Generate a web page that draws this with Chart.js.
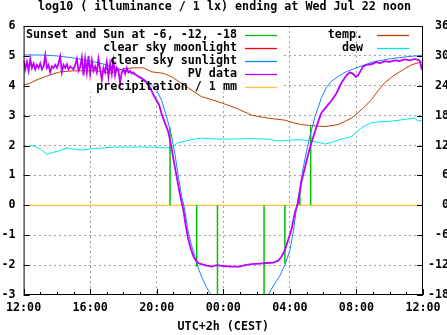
<!DOCTYPE html>
<html>
<head>
<meta charset="utf-8">
<script src="https://cdn.jsdelivr.net/npm/chart.js@4.4.1/dist/chart.umd.min.js"></script>
<style>
  html, body { margin: 0; padding: 0; background: #fff; overflow: hidden; }
  #wrap { width: 449px; height: 335px; }
</style>
</head>
<body>
<div id="wrap"><canvas id="chart" width="449" height="335"></canvas></div>
<script>
// hours after Wed 12:00 (UTC+2)
const xTickLabels = ['12:00', '16:00', '20:00', '00:00', '04:00', '08:00', '12:00'];

// PV data, 12:00 - 19:00 sampled every 6 minutes
const pvNoonStep = 0.1;
const pvNoonValues = [
  4.85, 4.55, 4.8, 4.5, 4.9, 4.6, 4.75, 4.55, 4.7, 4.6,
  4.75, 4.55, 4.65, 5.02, 4.6, 4.7, 4.45, 4.65, 4.6, 4.7,
  4.6, 4.75, 4.98, 4.45, 4.7, 4.6, 4.72, 4.55, 4.65, 4.6,
  4.55, 4.7, 4.9, 4.5, 4.62, 4.95, 4.35, 4.9, 4.45, 5.0,
  4.4, 4.85, 4.5, 4.65, 4.45, 4.9, 4.55, 4.2, 4.6, 4.45,
  4.8, 4.3, 4.75, 4.4, 4.85, 4.35, 4.6, 4.5, 4.1, 4.45,
  4.55, 4.4, 4.6, 4.45, 4.5, 4.42, 4.45, 4.38, 4.35, 4.3,
  4.28
];
const pvLateTimes = [7.2, 7.4, 7.6, 7.8, 8.0, 8.15, 8.3, 8.5, 8.7, 8.9, 9.05, 9.2, 9.4, 9.6, 9.75, 9.9,
  10.05, 10.2, 10.35, 10.5, 10.7, 11.0, 11.3, 11.6, 12.0, 12.5, 13.0, 13.3, 13.7, 14.2, 14.6, 15.0,
  15.3, 15.5, 15.7, 15.9, 16.1, 16.3, 16.5, 16.7, 16.9, 17.1, 17.3, 17.5, 17.7, 17.9, 18.2, 18.5,
  18.8, 19.1, 19.4, 19.6, 19.8, 19.95, 20.1, 20.4, 20.6, 20.9, 21.2, 21.4, 21.7, 22.0, 22.3, 22.6,
  22.9, 23.2, 23.5, 23.8, 23.9, 24];
const pvLateValues = [4.2, 4.1, 3.95, 3.7, 3.5, 3.35, 3.05, 2.75, 2.45, 1.9, 1.4, 0.95, 0.35, -0.15, -0.7, -1.15,
  -1.45, -1.7, -1.85, -1.93, -1.97, -2.02, -2.05, -2.0, -2.03, -2.05, -2.05, -2.0, -1.97, -1.95, -1.93, -1.92,
  -1.85, -1.72, -1.5, -1.15, -0.8, -0.25, 0.1, 0.8, 1.25, 1.7, 2.1, 2.45, 2.8, 3.1, 3.3, 3.5,
  3.75, 4.1, 4.35, 4.45, 4.4, 4.3, 4.35, 4.65, 4.7, 4.72, 4.8, 4.75, 4.82, 4.8, 4.85, 4.83,
  4.88, 4.85, 4.9, 4.85, 4.6, 4.75];

// clear sky sunlight (null = below the plot at night)
const sunTimes = [0, 1, 2, 3, 4, 5, 6, 6.5, 7, 7.5, 8, 8.3, 8.6, 8.9, 9.1, 9.3, 9.5, 9.65, 9.9, 10.1,
  10.3, 10.5, 10.7, 11.0, 11.25, 11.4, 13, 14.6, 14.7, 15.0, 15.4, 15.7, 16.0, 16.2, 16.4, 16.6,
  16.8, 17.0, 17.2, 17.5, 17.9, 18.2, 18.5, 19.0, 19.5, 20, 21, 22, 23, 24];
const sunValues = [5.03, 5.03, 5.0, 4.93, 4.83, 4.7, 4.52, 4.42, 4.3, 4.12, 3.85, 3.5, 2.95, 2.3, 1.7, 0.95,
  0.3, -0.05, -0.9, -1.35, -1.72, -2.1, -2.4, -2.75, -3.0, -3.2, null, -3.2, -3.0, -2.7, -2.35, -2.0,
  -1.5, -0.9, -0.1, 0.6, 1.25, 1.8, 2.3, 2.95, 3.6, 3.95, 4.15, 4.35, 4.5, 4.6, 4.8, 4.9, 4.97, 5.02];

// clear sky moonlight: nothing above the plot floor
const moonTimes = [];
const moonValues = [];

// sunset / sunrise and sun at -6, -12, -18 deg
const twilightTimes = [8.8, 9.55, 10.4, 11.65, 14.45, 15.7, 16.6, 17.25];
const twilightValues = [2.6, 0.05, -2.05, -3, -3, -1.95, 0.5, 2.65];

// precipitation
const rainTimes = [0, 24];
const rainValues = [0, 0];

// temperature and dew point, deg C
const tempTimes = [0, 0.3, 0.8, 1.6, 2.2, 3.0, 3.65, 4.4, 5.2, 5.6, 6.0, 6.6, 7.2, 7.7, 8.4, 8.9, 9.7,
  10.7, 11.7, 12.7, 13.7, 14.7, 15.7, 16.2, 16.7, 17.3, 18.1, 18.9, 19.7, 20.1, 20.5, 20.9, 21.3,
  21.7, 22.1, 22.5, 22.9, 23.3, 23.7, 24];
const tempValues = [24.2, 24.4, 25.2, 26.2, 26.8, 27.0, 27.0, 27.0, 26.5, 27.0, 27.4, 27.6, 27.6, 26.8,
  26.5, 25.8, 24.0, 21.8, 20.8, 19.6, 18.1, 17.5, 17.1, 16.6, 16.2, 16.0, 15.8, 16.2, 17.5, 18.6,
  19.8, 21.2, 23.0, 24.6, 25.7, 26.6, 27.4, 28.2, 28.6, 28.8];
const dewTimes = [0, 0.5, 0.8, 1.1, 1.4, 1.7, 2.0, 2.6, 3.0, 3.5, 4.2, 4.7, 5.5, 6.5, 7.7, 8.6, 9.0,
  9.2, 9.7, 10.1, 10.7, 11.6, 12.7, 13.5, 14.7, 15.3, 16.1, 16.5, 17.3, 17.8, 18.1, 18.5, 18.9,
  19.7, 20.3, 20.9, 21.5, 22.1, 22.8, 23.5, 23.7, 24];
const dewValues = [11.7, 12.0, 11.7, 11.1, 10.2, 10.6, 10.8, 11.5, 11.3, 11.1, 11.4, 11.5, 11.7, 11.7,
  11.7, 11.5, 11.8, 12.5, 12.9, 13.2, 13.5, 13.3, 13.3, 13.4, 13.3, 12.9, 13.1, 13.2, 12.9, 12.6,
  12.3, 12.6, 13.1, 13.8, 15.6, 16.6, 16.8, 16.9, 17.2, 17.5, 16.9, 17.1];

function points(times, values) {
  return times.map((t, i) => ({ x: t, y: values[i] }));
}

const pvData = points(pvNoonValues.map((v, i) => i * pvNoonStep), pvNoonValues)
  .concat(points(pvLateTimes, pvLateValues));

// impulses from 0 to the value
const twilightData = [];
twilightTimes.forEach((t, i) => {
  twilightData.push({ x: t, y: 0 }, { x: t, y: twilightValues[i] }, { x: t, y: null });
});

const FONT = '"DejaVu Sans Mono", "Liberation Mono", monospace';
Chart.defaults.font.family = FONT;
Chart.defaults.font.size = 11.7;
Chart.defaults.font.weight = 'bold';
Chart.defaults.color = '#000';

function line(label, data, color, axis, col, width) {
  return {
    label: label, data: data, borderColor: color, backgroundColor: color,
    borderWidth: width || 1, pointRadius: 0, tension: 0, fill: false,
    spanGaps: false, yAxisID: axis, keyColumn: col
  };
}

const datasets = [
  line('PV data', pvData, '#c000ff', 'y', 0, 1.8),
  line('clear sky sunlight', points(sunTimes, sunValues), '#1a80ff', 'y', 0),
  line('clear sky moonlight', points(moonTimes, moonValues), '#ff0000', 'y', 0),
  line('Sunset and Sun at -6, -12, -18', twilightData, '#00c000', 'y', 0, 1.5),
  line('precipitation / 1 mm', points(rainTimes, rainValues), '#ffc040', 'y', 0, 1.3),
  line('temp.', points(tempTimes, tempValues), '#c04000', 'y2', 1),
  line('dew', points(dewTimes, dewValues), '#00e8e8', 'y2', 1)
];
const keyOrder = ['Sunset and Sun at -6, -12, -18', 'clear sky moonlight', 'clear sky sunlight',
  'PV data', 'precipitation / 1 mm', 'temp.', 'dew'];

const gridColor = '#a0a0a0';

// white key box, frame, tick marks and the key
const framePlugin = {
  id: 'frame',
  beforeDatasetsDraw(chart) {
    const ctx = chart.ctx, a = chart.chartArea;
    ctx.save();
    ctx.fillStyle = '#fff';
    ctx.fillRect(a.left, a.top, 283 - a.left, 92 - a.top);
    ctx.restore();
  },
  afterDraw(chart) {
    const ctx = chart.ctx, a = chart.chartArea;
    const xs = chart.scales.x, ys = chart.scales.y;
    ctx.save();
    ctx.strokeStyle = '#000';
    ctx.lineWidth = 1;
    ctx.strokeRect(a.left + 0.5, a.top + 0.5, a.right - a.left - 1, a.bottom - a.top - 1);
    ctx.beginPath();
    for (let h = 0; h <= 24; h++) {
      const px = Math.round(xs.getPixelForValue(h)) + 0.5;
      const len = h % 4 === 0 ? 6 : 3;
      ctx.moveTo(px, a.bottom);
      ctx.lineTo(px, a.bottom - len);
    }
    for (let v = -3; v <= 6; v++) {
      const py = Math.round(ys.getPixelForValue(v)) + 0.5;
      ctx.moveTo(a.left, py); ctx.lineTo(a.left + 6, py);
      ctx.moveTo(a.right, py); ctx.lineTo(a.right - 6, py);
    }
    ctx.stroke();

    // key
    ctx.font = 'bold 11.7px ' + FONT;
    ctx.textAlign = 'right';
    ctx.textBaseline = 'middle';
    const cols = [{ text: 237, x0: 245, x1: 277, row: 0 }, { text: 363, x0: 377, x1: 409, row: 0 }];
    keyOrder.forEach(name => {
      const ds = chart.data.datasets.find(d => d.label === name);
      const c = cols[ds.keyColumn];
      const y = 35 + c.row * 13;
      ctx.fillStyle = '#000';
      ctx.fillText(ds.label, c.text, y);
      ctx.strokeStyle = ds.borderColor;
      ctx.lineWidth = 1.3;
      ctx.beginPath();
      ctx.moveTo(c.x0, y + 0.5);
      ctx.lineTo(c.x1, y + 0.5);
      ctx.stroke();
      c.row++;
    });
    ctx.restore();
  }
};

new Chart(document.getElementById('chart'), {
  type: 'line',
  data: { datasets: datasets },
  plugins: [framePlugin],
  options: {
    responsive: false,
    animation: false,
    devicePixelRatio: 1,
    layout: { padding: 0 },
    plugins: {
      legend: { display: false },
      tooltip: { enabled: false },
      title: {
        display: true,
        text: 'log10 ( illuminance / 1 lx) ending at Wed Jul 22 noon',
        color: '#000',
        font: { size: 11.7, weight: 'bold', family: FONT, lineHeight: 1.2 },
        padding: { top: 0, bottom: 11.96 }
      }
    },
    scales: {
      x: {
        type: 'linear',
        min: 0, max: 24,
        afterFit: s => { s.height = 40; },
        ticks: {
          stepSize: 4, padding: 6, maxRotation: 0, autoSkip: false,
          callback: v => xTickLabels[Math.round(v / 4)]
        },
        grid: {
          drawTicks: false,
          color: c => (c.tick && (c.tick.value === 0 || c.tick.value === 24)) ? 'rgba(0,0,0,0)' : gridColor
        },
        border: { display: false, dash: [2, 3] },
        title: {
          display: true, text: 'UTC+2h (CEST)',
          font: { size: 11.7, weight: 'bold', family: FONT },
          padding: { top: 0, bottom: 1 }
        }
      },
      y: {
        position: 'left',
        min: -3, max: 6,
        afterFit: s => { s.width = 21; },
        ticks: { stepSize: 1, padding: 8 },
        grid: {
          drawTicks: false,
          color: c => (c.tick && (c.tick.value === -3 || c.tick.value === 6)) ? 'rgba(0,0,0,0)' : gridColor
        },
        border: { display: false, dash: [2, 3] }
      },
      y2: {
        position: 'right',
        min: -18, max: 36,
        afterFit: s => { s.width = 26; },
        ticks: { stepSize: 6, crossAlign: 'far' },
        grid: { display: false, drawTicks: false },
        border: { display: false }
      }
    }
  }
});
</script>
</body>
</html>
